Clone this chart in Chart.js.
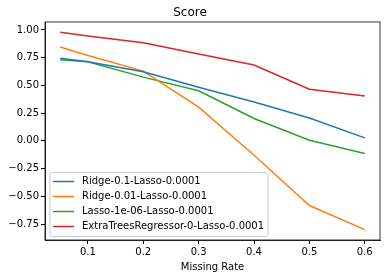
<!DOCTYPE html>
<html>
<head>
<meta charset="utf-8">
<script src="https://cdn.jsdelivr.net/npm/chart.js@4"></script>
<style>
  html, body { margin: 0; padding: 0; background: #fff; }
  #wrap { width: 386px; height: 278px; }
</style>
</head>
<body>
<div id="wrap"><canvas id="scoreChart" width="386" height="278"></canvas></div>
<script>
// Data
const missingRate = [0.05, 0.1, 0.2, 0.3, 0.4, 0.5, 0.6];
const ridge01 = [0.745, 0.714, 0.624, 0.483, 0.350, 0.206, 0.027];
const ridge001 = [0.847, 0.770, 0.629, 0.304, -0.130, -0.583, -0.800];
const lasso1e6 = [0.731, 0.714, 0.575, 0.452, 0.202, 0.006, -0.114];
const extraTrees = [0.980, 0.946, 0.885, 0.783, 0.684, 0.465, 0.404];
const seriesNames = ['Ridge-0.1-Lasso-0.0001', 'Ridge-0.01-Lasso-0.0001', 'Lasso-1e-06-Lasso-0.0001', 'ExtraTreesRegressor-0-Lasso-0.0001'];
const xTicks = [0.1, 0.2, 0.3, 0.4, 0.5, 0.6];
const yTicks = [-0.75, -0.5, -0.25, 0, 0.25, 0.5, 0.75, 1.0];

const colors = ['#1f77b4', '#ff7f0e', '#2ca02c', '#d62728'];
const font = 'DejaVu Sans';

function toPoints(vals) {
    return vals.map((v, i) => ({ x: missingRate[i], y: v }));
}

// Frame around the plot + legend box in lower left (like matplotlib)
const framePlugin = {
    id: 'frame',
    afterDraw(chart) {
        const ctx = chart.ctx;
        const a = chart.chartArea;
        ctx.save();
        ctx.strokeStyle = '#000';
        ctx.lineWidth = 0.8;
        ctx.strokeRect(a.left, a.top, a.right - a.left, a.bottom - a.top);

        // legend
        const x0 = a.left + 5, y0 = 172.5, w = 218, h = 64;
        ctx.fillStyle = 'rgba(255,255,255,0.8)';
        ctx.strokeStyle = '#cccccc';
        ctx.lineWidth = 1;
        ctx.beginPath();
        ctx.roundRect(x0, y0, w, h, 2);
        ctx.fill();
        ctx.stroke();
        ctx.font = '10px ' + font;
        ctx.textBaseline = 'middle';
        chart.data.datasets.forEach((ds, i) => {
            const cy = y0 + 9 + i * 15;
            ctx.strokeStyle = ds.borderColor;
            ctx.lineWidth = 1.5;
            ctx.beginPath();
            ctx.moveTo(x0 + 3, cy);
            ctx.lineTo(x0 + 24, cy);
            ctx.stroke();
            ctx.fillStyle = '#000';
            ctx.fillText(ds.label, x0 + 32, cy);
        });
        ctx.restore();
    }
};

const allSeries = [ridge01, ridge001, lasso1e6, extraTrees];

new Chart(document.getElementById('scoreChart').getContext('2d'), {
    type: 'line',
    data: {
        datasets: allSeries.map((vals, i) => ({
            label: seriesNames[i],
            data: toPoints(vals),
            borderColor: colors[i],
            backgroundColor: colors[i],
            borderWidth: 1.5,
            pointRadius: 0,
            tension: 0,
            fill: false
        }))
    },
    options: {
        responsive: false,
        animation: false,
        layout: { padding: { left: 0, right: 6, top: 0, bottom: 0 } },
        plugins: {
            legend: { display: false },
            tooltip: { enabled: false },
            title: {
                display: true,
                text: 'Score',
                color: '#000',
                font: { family: font, size: 12, weight: 'normal' },
                padding: { top: 6, bottom: 1.6 }
            }
        },
        scales: {
            x: {
                type: 'linear',
                min: 0.0225,
                max: 0.6275,
                afterBuildTicks: s => { s.ticks = xTicks.map(v => ({ value: v })); },
                afterFit: s => { s.height = 38; },
                grid: { drawOnChartArea: false, drawTicks: true, tickLength: 4, color: '#000' },
                border: { display: true, color: '#000', width: 0.8 },
                ticks: {
                    color: '#000',
                    font: { family: font, size: 10 },
                    padding: 2,
                    maxRotation: 0,
                    callback: v => v.toFixed(1)
                },
                title: {
                    display: true,
                    text: 'Missing Rate',
                    color: '#000',
                    font: { family: font, size: 10 },
                    padding: { top: 1, bottom: 5 }
                }
            },
            y: {
                min: -0.894,
                max: 1.072,
                afterBuildTicks: s => { s.ticks = yTicks.map(v => ({ value: v })); },
                afterFit: s => { s.width = 45; },
                grid: { drawOnChartArea: false, drawTicks: true, tickLength: 4, color: '#000' },
                border: { display: true, color: '#000', width: 0.8 },
                ticks: {
                    color: '#000',
                    font: { family: font, size: 10 },
                    padding: 2,
                    callback: v => v.toFixed(2).replace('-', '\u2212')
                }
            }
        }
    },
    plugins: [framePlugin]
});
</script>
</body>
</html>
